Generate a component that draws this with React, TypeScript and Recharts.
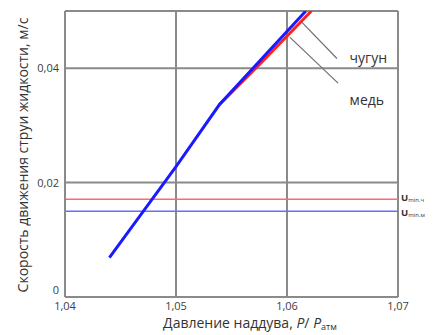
import React from "react";
import {
  LineChart,
  Line,
  XAxis,
  YAxis,
  CartesianGrid,
  ReferenceLine,
  ReferenceDot,
  Label,
} from "recharts";

// давление наддува P/Pатм и скорость струи, м/с
const copperP = [1.044, 1.05, 1.0539, 1.0617];
const copperV = [0.0069, 0.0228, 0.0336, 0.05];
const ironP = [1.0539, 1.0575, 1.0622];
const ironV = [0.0336, 0.0406, 0.05];

const xTicks = [1.04, 1.05, 1.06, 1.07];
const yTicks = [0, 0.02, 0.04];

const uMinIron = 0.0171;
const uMinCopper = 0.015;

const copper = copperP.map((p, i) => ({ p, v: copperV[i] }));
const iron = ironP.map((p, i) => ({ p, v: ironV[i] }));

const GRID = "#8a8a8a";
const TXT = "#404040";
const FONT = "'Open Sans', sans-serif";

const comma = (v: number) => String(v).replace(".", ",");

const UminLabel = (sub: string, shift: number) => (props: any) => {
  const vb = props.viewBox || {};
  const x = vb.x + vb.width + 3;
  const y = vb.y + shift;
  return (
    <text x={x} y={y} dy={3} fontFamily={FONT} fill="#333">
      <tspan fontSize={9.5} fontWeight={700}>U</tspan>
      <tspan fontSize={6} dy={1}>{sub}</tspan>
    </text>
  );
};

const YTick = (props: any) => {
  const { x, y, payload } = props;
  const up = payload.value === 0 ? -7 : 0;
  return (
    <text
      x={x}
      y={y + up}
      dy={4}
      textAnchor="end"
      fill={TXT}
      fontSize={11}
      fontFamily={FONT}
    >
      {comma(payload.value)}
    </text>
  );
};

export default function App() {
  return (
    <div style={{ position: "absolute", left: 0, top: 0 }}>
      <LineChart
        width={438}
        height={335}
        margin={{ top: 11, right: 40, left: 35, bottom: 0 }}
      >
        <CartesianGrid stroke={GRID} strokeWidth={2} />
        <XAxis
          type="number"
          dataKey="p"
          domain={[1.04, 1.07]}
          ticks={xTicks}
          tickFormatter={comma}
          allowDataOverflow
          axisLine={{ stroke: GRID, strokeWidth: 2 }}
          tickLine={false}
          tickSize={3}
          tick={{ fill: TXT, fontSize: 11, fontFamily: FONT }}
          height={38}
        >
          <Label
            content={() => (
              <text
                x={250}
                y={328}
                textAnchor="middle"
                fontFamily={FONT}
                fontSize={14}
                fill="#333"
              >
                Давление наддува,{" "}
                <tspan fontStyle="italic">P</tspan>/{" "}
                <tspan fontStyle="italic">P</tspan>
                <tspan fontSize={9} dy={2}>атм</tspan>
              </text>
            )}
          />
        </XAxis>
        <YAxis
          type="number"
          dataKey="v"
          domain={[0, 0.05]}
          ticks={yTicks}
          allowDataOverflow
          axisLine={{ stroke: GRID, strokeWidth: 2 }}
          tickLine={false}
          tickSize={4}
          tick={<YTick />}
          width={30}
        >
          <Label
            content={() => (
              <text
                x={22}
                y={155}
                transform="rotate(-90 22 155)"
                textAnchor="middle"
                dominantBaseline="central"
                fontFamily={FONT}
                fontSize={14}
                fill="#333"
              >
                Скорость движения струи жидкости, м/с
              </text>
            )}
          />
        </YAxis>
        <ReferenceLine y={0.05} stroke={GRID} strokeWidth={2} />
        <ReferenceLine
          y={uMinIron}
          stroke="#ff6b6b"
          strokeWidth={1.5}
          label={UminLabel("min.ч", -1.5)}
        />
        <ReferenceLine
          y={uMinCopper}
          stroke="#6b6bff"
          strokeWidth={1.5}
          label={UminLabel("min.м", 1.5)}
        />
        <ReferenceLine
          segment={[
            { x: 1.06135, y: 0.048 },
            { x: 1.0645, y: 0.0417 },
          ]}
          stroke="#707070"
          strokeWidth={1.2}
        />
        <ReferenceLine
          segment={[
            { x: 1.06027, y: 0.0454 },
            { x: 1.0646, y: 0.0374 },
          ]}
          stroke="#707070"
          strokeWidth={1.2}
        />
        <ReferenceDot
          x={1.0651}
          y={0.0417}
          r={1}
          fill="none"
          stroke="none"
          label={{
            value: "чугун",
            position: "right",
            fill: "#333",
            fontSize: 14,
            fontFamily: FONT,
          }}
        />
        <ReferenceDot
          x={1.0651}
          y={0.0345}
          r={1}
          fill="none"
          stroke="none"
          label={{
            value: "медь",
            position: "right",
            fill: "#333",
            fontSize: 14,
            fontFamily: FONT,
          }}
        />
        <Line
          data={iron}
          dataKey="v"
          type="linear"
          stroke="#ff2020"
          strokeWidth={3}
          dot={false}
          isAnimationActive={false}
        />
        <Line
          data={copper}
          dataKey="v"
          type="linear"
          stroke="#1a1aff"
          strokeWidth={3}
          dot={false}
          isAnimationActive={false}
        />
      </LineChart>
    </div>
  );
}
